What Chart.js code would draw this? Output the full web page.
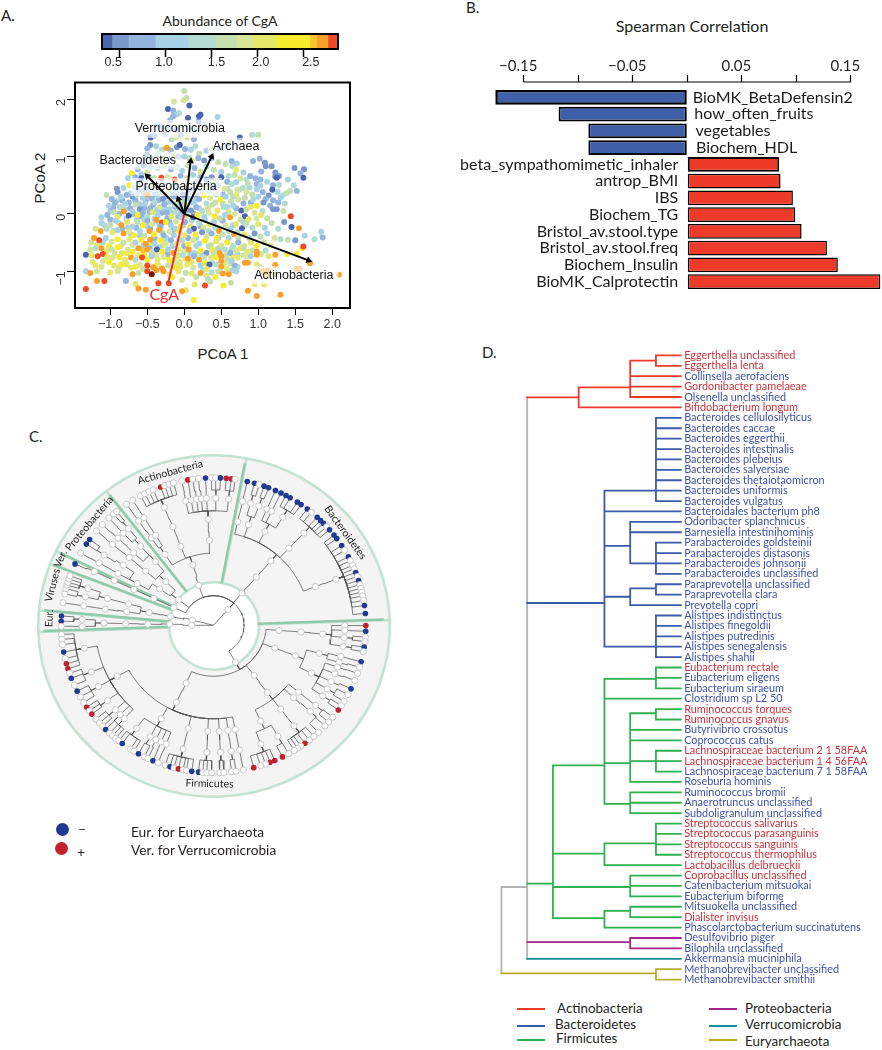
<!DOCTYPE html>
<html lang="en">
<head>
<meta charset="UTF-8">
<title>CgA figure</title>
<script src="https://cdn.jsdelivr.net/npm/chart.js"></script>
<style>
    html, body { margin: 0; padding: 0; background: #fff; overflow: hidden; }
    #page { position: relative; width: 882px; height: 1050px; font-family: Lato, "Open Sans", sans-serif; color: #231f20; }
    canvas { position: absolute; }
    .txt { position: absolute; white-space: nowrap; line-height: 1; transform: translateY(-50%); }
    .mid { transform: translate(-50%, -50%); }
    .rot { transform: translate(-50%, -50%) rotate(-90deg); }
    .key { position: absolute; height: 2px; width: 28px; }
    .dot { position: absolute; width: 13px; height: 13px; border-radius: 50%; }
</style>
</head>
<body>
<div id="page">
    <div class="txt" style="left:1px;top:15px;font-size:15px">A.</div>
    <div class="txt" style="left:466px;top:7px;font-size:15px">B.</div>
    <div class="txt" style="left:29px;top:436px;font-size:15px">C.</div>
    <div class="txt" style="left:482px;top:352px;font-size:15px">D.</div>
    <div class="txt mid" style="left:220px;top:21px;font-size:14px">Abundance of CgA</div>
    <div class="txt mid" style="left:692px;top:26px;font-size:16px">Spearman Correlation</div>
    <div class="txt mid" style="left:223px;top:353px;font-size:15px;font-family:'Liberation Sans'">PCoA 1</div>
    <div class="txt rot" style="left:39px;top:178px;font-size:15px;font-family:'Liberation Sans'">PCoA 2</div>

    <canvas id="cbar" width="260" height="50" style="left:90px;top:25px"></canvas>
    <canvas id="pcoa" width="340" height="265" style="left:20px;top:70px"></canvas>
    <canvas id="bars" width="442" height="255" style="left:440px;top:40px"></canvas>
    <canvas id="ring" width="350" height="350" style="left:38.5px;top:450.5px;transform:scaleX(1.03)"></canvas>
    <canvas id="tree" width="370" height="365" style="left:30px;top:445px"></canvas>
    <canvas id="dendro" width="387" height="645" style="left:495px;top:344.6px"></canvas>

    <div class="dot" style="left:55.5px;top:823px;background:#1f3a93"></div>
    <div class="dot" style="left:55px;top:841.5px;background:#c1202c"></div>
    <div class="txt" style="left:78px;top:829px;font-size:14px">–</div>
    <div class="txt" style="left:77px;top:852px;font-size:14px">+</div>
    <div class="txt" style="left:131px;top:832px;font-size:13.7px">Eur. for Euryarchaeota</div>
    <div class="txt" style="left:131px;top:849.5px;font-size:13.7px">Ver. for Verrucomicrobia</div>

    <div class="key" style="left:517px;top:1008px;background:#f0392b"></div>
    <div class="key" style="left:517px;top:1025px;background:#3b5aa8"></div>
    <div class="key" style="left:517px;top:1039px;background:#2fb14f"></div>
    <div class="key" style="left:709px;top:1008px;background:#a5228f"></div>
    <div class="key" style="left:709px;top:1025px;background:#1a8a9a"></div>
    <div class="key" style="left:709px;top:1039px;background:#b5ae2e"></div>
    <div class="txt" style="left:557px;top:1009px;font-size:13.4px">Actinobacteria</div>
    <div class="txt" style="left:555px;top:1025px;font-size:13.4px">Bacteroidetes</div>
    <div class="txt" style="left:556px;top:1039px;font-size:13.4px">Firmicutes</div>
    <div class="txt" style="left:745px;top:1009px;font-size:13.4px">Proteobacteria</div>
    <div class="txt" style="left:745px;top:1025px;font-size:13.4px">Verrucomicrobia</div>
    <div class="txt" style="left:745px;top:1042px;font-size:13.4px">Euryarchaeota</div>
</div>

<script>
    // ---- panel A: colour bar
    const cbBreaks = [0.313, 0.42, 0.60, 0.89, 1.25, 1.54, 1.77, 1.95, 2.2, 2.565, 2.64, 2.76, 2.87];
    const cbColors = ['#4a64ae', '#7b98ca', '#93b4dc', '#a8d2e6', '#b2dcd2', '#c5dfae', '#d7e59b', '#e6e86a', '#f8ec2f', '#f9c52e', '#f9a02b', '#ef4b27'];
    const cbTicks = [0.5, 1.0, 1.5, 2.0, 2.5];
    const cbTickLabels = ['0.5', '1.0', '1.5', '2.0', '2.5'];
    const cbLabelNudge = [-6, -1.5, 5, 3, 7];

    // ---- panel A: ordination, each point is [PCoA 1, PCoA 2, abundance of CgA]
    const pcoaPoints = [
        [.52,.34,.75],[.58,.12,1.1],[.66,.3,1.4],[.74,.42,1.1],[.82,.28,1.65],[.88,.46,1.1],[.9,.2,.75],[.96,.62,.75],[1.0,.3,1.1],[1.04,.74,.75],[1.12,.56,1.1],[1.16,.14,.75],[1.2,.5,.75],[1.26,.38,1.1],[1.36,.18,1.4],[1.4,.6,1.1],[.6,.66,1.4],[.68,.68,1.65],[.8,.72,1.1],[.84,.6,1.4],
        [.04,.44,.75],[.16,.56,1.1],[.24,.38,1.4],[.34,.52,.75],[.46,.5,1.1],[.52,.18,1.65],[.58,.44,1.4],[.3,.18,1.4],[.42,.2,1.65],[.14,.22,1.1],
        [-1.26,-.5,1.85],[-1.18,-.54,2.1],[-1.1,-.5,1.4],[-1.02,-.56,2.4],[-.94,-.68,1.85],[-.86,-.56,2.1],[-.78,-.68,2.4],[-.7,-.54,1.85],[-.62,-.72,2.1],[-.54,-.72,2.4],[-.46,-.54,2.1],[-.38,-.72,1.85],[-.3,-.56,2.1],[-.22,-.76,2.4],[-.14,-.8,2.1],[-.06,-.84,1.85],[.02,-.78,2.4],[.1,-.84,2.1],[.18,-.7,1.85],[.28,-.86,2.4],[.36,-.76,1.85],[.44,-.62,2.4],[.54,-.86,2.1],[.66,-.74,2.1],[.76,-.6,2.4],[.84,-.74,1.85],[.92,-.64,1.65],[1.04,-.7,1.85],[1.14,-.74,2.1],[-1.24,-.84,2.1],[-1.1,-.82,1.85],[-.88,-.94,1.85],[-.78,-.88,2.1],[-.66,-.92,2.4],[-.56,-.96,1.85],[-.36,-.88,2.1],[-.16,-1.1,2.4],[-.1,-.88,1.85],[.1,-1.04,2.1],[.16,-1.1,1.65],[.42,-1.1,2.4],
        [-1.0,.05,1.1],[-.96,.1,.75],[-.92,.22,1.1],[-.88,.0,.75],[-.84,.24,.75],[-.8,.08,1.25],[-.78,-.08,1.1],[-.75,.2,.75],[-.72,.36,1.1],[-.69,.0,.75],[-.66,.24,.75],[-.64,-.1,1.1],[-.62,.42,.75],[-.6,.17,1.1],[-.58,-.04,.75],[-.55,.38,1.1],[-.54,.1,.75],[-.52,.24,.75],[-.5,-.22,1.1],[-.48,.3,1.1],[-.47,.03,.75],[-.45,.42,1.1],[-.42,.16,.75],[-.4,-.08,1.1],[-.39,.34,.75],[-.37,.07,1.1],[-.35,.24,.75],[-.33,-.2,1.1],[-.31,.38,1.1],[-.3,.02,.75],[-.27,.1,1.1],[-.25,.3,.75],[-.23,-.08,.75],[-.21,.2,1.1],[-.18,.35,.75],[-.17,.02,1.1],[-.15,-.28,.75],[-.12,.12,.75],[-.1,.38,1.1],[-.08,-.05,.75],[-.05,.18,1.1],[-.03,.02,.75],[0,.24,1.1],[.03,.07,.75],[.06,.38,.75],[.09,.2,1.1],[.13,.0,.75],[.16,.32,.75],[.2,.1,1.1],
        [-1.12,-.06,1.1],[-1.08,-.2,1.4],[-1.0,-.1,.75],[-.96,-.3,1.1],[-.88,-.16,1.4],[-.84,-.26,.75],[-.76,-.24,1.1],[-.72,-.36,1.4],[-.65,-.24,.75],[-.6,-.38,1.1],[-.54,-.1,1.4],[-.46,-.26,.75],[-.42,-.42,1.4],[-.36,-.14,1.1],[-.3,-.32,1.4],[-.24,-.42,1.1],[-.2,-.14,.75],[-.12,-.26,1.1],[-.07,-.44,1.4],[-.02,-.2,1.1],[.05,-.42,.75],[.1,-.12,1.4],[.16,-.42,1.1],[.22,-.22,.75],[.28,-.1,1.1],[.33,-.3,1.4],[.4,-.14,1.1],[.46,-.42,1.1],[.52,-.12,.75],[.6,-.3,1.4],[.66,-.2,1.1],[.72,-.32,1.4],[.8,-.14,1.1],
        [-.55,-.55,1.1],[-.47,-.6,.75],[-.4,-.42,.75],[-.34,-.58,1.1],[-.27,-.48,1.4],[-.23,-.7,.75],[-.16,-.56,1.1],[-.08,-.72,1.4],[0,-.56,.75],[.08,-.7,1.1],[.16,-.56,1.4],[.25,-.72,1.1],[.33,-.56,1.4],[.4,-.68,1.65],[.47,-.6,1.1],[.56,-.72,1.65],[.64,-.62,1.4],[.72,-.7,1.1],[.38,-.86,1.4],[.62,-.86,1.65],[.72,-.92,1.4],[.25,-.98,1.4],
        [0,2.14,1.65],[.03,2.02,1.65],[-.14,1.96,1.85],[-.01,1.98,1.85],[.07,1.89,.37],[-.22,1.83,.37],[-.15,1.8,.75],[-.07,1.76,1.4],[-.11,1.73,1.1],[.22,1.73,.37],[.2,1.7,.37],[.05,1.67,.37],[.45,1.69,1.1],[-.15,1.7,.75],[-.19,1.63,.75],[.19,1.61,.5],[.28,1.56,1.4],
        [-.36,1.55,1.1],[-.3,1.52,.75],[-.2,1.5,1.1],[-.1,1.47,.75],[.06,1.5,1.1],[.16,1.48,1.4],[.3,1.5,1.65],[-.455,1.33,.37],[-.4,1.36,.75],[-.26,1.39,1.1],[-.17,1.3,1.4],[-.11,1.33,1.85],[-.05,1.37,.75],[.04,1.33,1.85],[.13,1.3,.75],[.75,1.33,.37],[.92,1.38,1.4],[1,1.38,1.65],[.62,1.26,1.65],[.58,1.2,.75],[-.46,1.2,.5],[-.5,1.14,.75],[-.38,1.18,1.1],[-.3,1.12,1.4],[-.22,1.15,1.85],[-.18,1.1,.75],[-.24,1.15,2.7],[-.1,1.16,.5],[-.06,1.2,.37],[.01,1.13,.75],[.09,1.12,1.1],[.15,1.18,1.4],[.2,1.05,1.65],[.3,1.1,1.1],[.38,1.13,1.65],[.47,1.14,.75],
        [-.5,1.03,.5],[-.53,.95,.75],[-.45,.98,1.1],[-.35,1.04,1.4],[-.27,.98,1.65],[-.2,.96,.75],[-.14,1.02,1.85],[-.08,1,.75],[0,1,1.1],[.07,.98,1.4],[.1,.93,2.1],[.19,.97,.75],[.27,.93,.5],[.37,.97,1.1],[.46,.9,1.65],[.56,.87,1.65],[.65,.83,1.4],[.71,.88,1.1],[.64,.92,.75],[.7,.77,2.1],[.93,.92,.75],[1.02,.96,.75],[1.09,.89,.5],[1.1,.83,.5],[1.18,.83,.5],[1.49,.8,.5],[1.62,.78,.5],[1.57,.71,.75],[-.55,.85,.5],[-.46,.82,1.1],[-.36,.8,1.4],[-.27,.84,1.65],[-.18,.78,.75],[-.1,.82,1.4],[-.03,.75,1.1],[.05,.85,1.65],[.14,.8,.75],[.22,.74,1.85],[.3,.82,1.4],[.4,.77,1.65],[.5,.73,1.1],[-.63,.78,.75],[-.5,.72,1.85],[-.58,.69,1.1],
        [-.71,.71,2.4],[-.76,.62,1.1],[-.66,.64,.75],[-.58,.62,.37],[-.48,.65,1.4],[-.41,.62,1.65],[-.31,.63,2.8],[-.22,.64,1.85],[-.13,.6,2.8],[-.05,.66,.75],[.03,.62,1.65],[.12,.68,1.1],[.22,.64,.75],[.3,.6,.5],[.37,.64,.5],[.5,.64,.37],[.43,.58,1.65],[.58,.56,.75],[.64,.52,1.4],[.7,.55,1.1],[.89,.66,.75],[.76,.62,1.85],[1.23,.72,.5],[1.28,.66,.5],[1.23,.65,.5],[1.25,.63,.37],[1.03,.6,.75],[.86,.52,1.65],[.98,.52,.75],[1.03,.49,1.1],[1.28,.51,1.4],[1.48,.5,1.4],[1.61,.63,.37],[.79,.45,1.4],[.72,.42,1.85],
        [-.91,.44,.5],[-.9,.38,.5],[-.82,.45,1.1],[-.74,.5,2.4],[-1.05,.33,1.65],[-.67,.46,1.1],[-.6,.52,1.4],[-.52,.44,.75],[-.43,.5,1.85],[-.36,.46,.75],[-.28,.52,1.1],[-.2,.42,1.65],[-.14,.48,.75],[-.06,.44,1.4],[.02,.5,1.85],[.09,.42,.75],[.17,.46,1.4],[.26,.5,1.65],[.34,.4,1.1],[.4,.46,.75],[.55,.44,1.85],[.62,.38,1.65],[.7,.33,2.1],[.84,.38,1.85],[.92,.34,1.65],[.98,.43,1.1],[1.06,.38,.75],[1.19,.42,.37],[1.52,.4,.75],[1.43,.4,1.65],[1.38,.36,1.65],[1.33,.32,1.4],[1.14,.32,.5],[1.3,.28,1.1],[1.1,.26,.75],
        [-.98,.26,.75],[-.86,.3,1.1],[-.78,.33,.75],[-.7,.3,.5],[-.64,.34,1.4],[-.56,.28,1.1],[-.5,.34,2.7],[-.44,.27,.75],[-.36,.32,1.1],[-.29,.26,.5],[-.22,.36,1.65],[-.14,.3,.75],[-.07,.24,2.1],[-.02,.33,.5],[.05,.28,1.1],[.12,.35,1.65],[.2,.26,.75],[.27,.32,2.4],[.35,.28,1.85],[.43,.34,1.4],[.49,.25,2.4],[.56,.3,1.1],[.63,.22,1.65],[.73,.25,1.85],[.8,.18,.75],[.93,.25,1.4],[.98,.14,2.4],[1.07,.2,.5],[1.2,.24,.75],[1.27,.2,.75],[1.2,.08,.5],[1.25,.08,.5],[1.34,.05,1.65],[.77,.06,.37],[.7,.1,.75],
        [-1.02,.14,1.1],[-.94,.19,.75],[-.87,.12,1.4],[-.8,.18,1.1],[-.73,.1,.75],[-.66,.16,1.65],[-.6,.08,.5],[-.53,.18,1.1],[-.46,.1,.75],[-.4,.2,1.4],[-.33,.12,1.85],[-.27,.17,.75],[-.2,.08,1.1],[-.13,.16,1.4],[-.06,.08,.75],[.02,.14,1.85],[.09,.06,.5],[.16,.12,.75],[.24,.05,1.4],[.32,.1,1.85],[.38,.16,1.65],[.45,.06,2.1],[.53,.12,1.4],[.6,.04,1.85],[.66,.14,1.1],[.84,.08,1.65],[.9,.12,2.1],[.95,.02,1.85],[1.06,.05,1.4],
        [-1.12,-.16,1.1],[-1.04,-.02,.75],[-.95,.03,1.65],[-.9,-.05,2.1],[-.82,.04,2.7],[-.75,-.03,.37],[-.7,.04,1.1],[-.63,-.02,2.4],[-.56,.02,.75],[-.5,-.05,1.4],[-.43,.03,2.1],[-.36,-.03,1.1],[-.3,-.15,2.8],[-.24,.02,.75],[-.17,-.04,2.1],[-.1,.03,1.4],[-.04,-.06,1.1],[.04,-.03,1.65],[.12,-.06,.37],[.18,-.02,2.4],[.27,-.05,1.1],[.33,.02,1.85],[.41,-.04,2.4],[.48,-.08,1.65],[.55,-.02,1.1],[.62,-.06,2.7],[.68,.0,1.85],[.82,-.04,.37],[.87,-.09,2.1],[.76,-.1,1.65],[.98,-.08,1.85],[1.04,-.02,2.1],[1.12,-.08,1.65],[1.44,-.04,2.8],[1.35,-.14,.5],
        [-1.0,-.2,1.65],[-.93,-.12,1.1],[-.85,-.2,2.7],[-.77,-.14,2.1],[-.7,-.22,1.1],[-.63,-.14,1.65],[-.56,-.2,2.4],[-.5,-.12,.75],[-.43,-.18,1.85],[-.38,-.1,2.7],[-.32,-.22,.75],[-.25,-.14,2.4],[-.18,-.2,1.1],[-.11,-.13,1.85],[-.05,-.22,2.4],[.01,-.14,.75],[.08,-.22,2.1],[.13,-.26,.37],[.2,-.16,1.4],[.26,-.24,1.85],[.34,-.18,2.1],[.42,-.24,1.4],[.47,-.3,2.7],[.56,-.2,1.85],[.63,-.26,1.1],[.7,-.18,2.1],[.78,-.25,.37],[.84,-.17,1.65],[.92,-.24,1.4],[1.0,-.18,2.1],[1.09,-.24,1.1],[1.18,-.16,1.65],[1.27,-.26,1.4],[1.45,-.23,.37],[1.55,-.25,2.7],
        [-1.2,-.26,1.85],[-1.13,-.3,2.7],[-1.05,-.26,1.4],[-.97,-.32,2.1],[-.9,-.28,1.1],[-.82,-.34,2.7],[-.75,-.3,1.85],[-.68,-.37,2.4],[-.6,-.3,1.1],[-.54,-.38,1.65],[-.47,-.3,2.7],[-.41,-.36,2.4],[-.34,-.28,2.7],[-.28,-.37,.75],[-.2,-.31,1.85],[-.14,-.37,1.1],[-.07,-.3,2.4],[0,-.37,2.1],[.07,-.3,.75],[.15,-.36,2.4],[.24,-.32,.5],[.3,-.4,1.85],[.37,-.34,.75],[.44,-.42,2.4],[.52,-.36,1.65],[.6,-.42,1.1],[.67,-.35,2.7],[.73,-.42,1.65],[.81,-.36,2.1],[.88,-.42,1.4],[.95,-.34,.5],[1.03,-.4,1.65],[1.12,-.34,1.1],[1.22,-.42,1.85],[1.63,-.38,1.1],[1.85,-.31,1.1],[1.87,-.41,.75],[1.76,-.44,1.4],[1.5,-.46,.5],[1.4,-.45,1.65],[1.3,-.44,1.4],
        [-1.22,-.42,2.7],[-1.15,-.46,2.8],[-1.06,-.42,1.1],[-.98,-.48,1.85],[-.9,-.44,2.4],[-.82,-.5,1.65],[-.74,-.44,2.1],[-.66,-.5,1.1],[-.58,-.45,2.4],[-.52,-.52,2.7],[-.46,-.45,2.7],[-.4,-.52,1.1],[-.32,-.46,2.4],[-.25,-.52,1.85],[-.18,-.46,.75],[-.1,-.52,2.1],[-.03,-.47,1.4],[.05,-.53,2.4],[.12,-.46,1.85],[.2,-.52,1.1],[.28,-.47,2.4],[.36,-.54,1.65],[.43,-.48,2.1],[.5,-.55,1.85],[.58,-.5,2.4],[.66,-.56,1.4],[.73,-.5,.75],[.81,-.56,1.85],[.9,-.5,2.1],[.98,-.56,2.4],[1.08,-.5,1.65],[1.17,-.55,1.85],[1.59,-.6,2.4],[1.61,-.57,2.8],
        [-1.27,-.62,1.85],[-1.2,-.6,1.4],[-1.12,-.6,2.7],[-1.05,-.65,2.1],[-.98,-.62,1.65],[-.9,-.58,2.4],[-.84,-.68,2.1],[-.76,-.62,1.85],[-.7,-.66,2.4],[-.62,-.6,2.7],[-.56,-.64,2.6],[-.5,-.62,2.7],[-.44,-.67,1.65],[-.37,-.62,.37],[-.3,-.66,2.4],[-.22,-.62,1.1],[-.15,-.68,2.7],[-.08,-.62,2.1],[0,-.66,1.85],[.06,-.62,2.7],[.14,-.68,1.1],[.22,-.64,2.4],[.3,-.68,.5],[.37,-.62,2.1],[.48,-.68,2.7],[.55,-.62,1.4],[.62,-.68,.75],[.7,-.64,1.85],[.8,-.6,1.65],[.85,-.66,2.1],[.98,-.66,2.7],[1.1,-.64,1.4],
        [-1.33,-.71,.37],[-1.25,-.72,2.1],[-1.17,-.74,2.8],[-1.1,-.7,2.8],[-1.04,-.75,2.1],[-.97,-.76,1.85],[-.88,-.75,2.4],[-.8,-.8,2.1],[-.72,-.76,2.7],[-.66,-.8,1.4],[-.57,-.76,2.8],[-.5,-.8,2.4],[-.44,-.74,1.1],[-.36,-.8,2.1],[-.28,-.75,1.85],[-.2,-.82,2.4],[-.1,-.74,2.1],[-.02,-.72,1.4],[.05,-.78,2.7],[.13,-.74,.75],[.2,-.8,2.7],[.27,-.76,1.65],[.34,-.88,.37],[.42,-.76,2.4],[.5,-.74,2.7],[.5,-.82,2.7],[.58,-.78,1.65],[.64,-.82,1.1],[.72,-.76,2.1],[.8,-.72,1.85],[.98,-.71,2.7],[1.23,-.71,2.7],[1.39,-.7,2.4],[1.52,-.7,2.4],[.9,-.74,1.1],
        [-1.2,-.9,2.1],[-1.12,-.92,1.85],[-1.02,-.84,2.4],[-.95,-.9,2.1],[-.85,-.88,2.4],[-.72,-.94,2.1],[-.6,-.88,1.85],[-.5,-.9,2.8],[-.42,-.93,2.7],[-.3,-.95,2.7],[-.22,-.9,1.65],[-.12,-.94,2.4],[-.05,-.92,2.1],[.04,-.88,2.1],[.12,-.94,1.85],[.22,-.9,1.1],[.3,-.96,2.1],[.43,-.88,1.4],[.5,-.92,2.7],[.46,-1,1.65],[.58,-.96,2.1],[.68,-.9,.75],[.82,-.85,2.7],[.86,-.85,2.7],[.65,-.98,1.1],[.98,-.88,2.1],[1.7,-.86,2.7],[1.23,-.89,2.7],[1.02,-.92,1.85],
        [-1.33,-1.0,1.1],[-1.27,-1.03,2.7],[-1.18,-1.0,1.85],[-1.0,-1.02,2.1],[-.9,-1.0,1.85],[-.7,-1.05,2.7],[-.62,-1.03,1.65],[-.5,-1.0,2.8],[-.44,-1.05,2.9],[-.38,-.98,2.7],[-.28,-1.0,2.7],[-.2,-1.05,2.1],[-.08,-1.0,2.1],[.02,-1.03,1.65],[.22,-1.03,2.7],[.3,-1.08,2.1],[.37,-1.02,1.4],[.52,-1.04,2.7],[.6,-1.05,2.7],[.7,-1,1.1],[1.06,-1.0,2.7],[1.13,-.98,2.7],[1.13,-1.05,2.7],[1.51,-.96,2.7],[1.56,-.96,2.7],[2.09,-1.06,2.7],[1.2,-1.03,1.85],
        [-1.33,-1.31,2.8],[-1.18,-1.17,2.7],[-1.08,-1.17,2.8],[-.79,-1.17,.75],[-.66,-1.22,2.1],[-.62,-1.3,2.7],[-.52,-1.32,2.7],[-.35,-1.21,2.8],[-.21,-1.21,2.8],[-.03,-1.15,1.85],[.02,-1.33,2.1],[.14,-1.23,2.1],[.28,-1.25,2.8],[.32,-1.14,1.4],[.35,-1.18,1.65],[.53,-1.25,2.4],[.63,-1.2,1.65],[.13,-1.5,2.4],[-.03,-1.35,2.7],[.86,-1.34,2.7],[.98,-1.43,2.7],[1.3,-1.41,2.7],[.95,-1.22,2.1],[1.08,-1.23,2.1]
    ];
    const pcoaXTicks = [-1.0, -0.5, 0, 0.5, 1.0, 1.5, 2.0];
    const pcoaYTicks = [-1, 0, 1, 2];
    const arrowNames = ['Actinobacteria', 'Archaea', 'Verrucomicrobia', 'Bacteroidetes', 'Proteobacteria'];
    const arrowTipX = [1.68, 0.37, 0.086, -0.5, -0.08];
    const arrowTipY = [-0.81, 1.0, 0.92, 0.66, 0.26];
    const arrowLabelX = [1.48, 0.7, -0.06, -0.63, -0.11];
    const arrowLabelY = [-1.07, 1.17, 1.48, 0.93, 0.47];
    const cgaTip = [-0.216, -1.19];
    const cgaLabel = [-0.27, -1.41];

    // ---- panel B
    const barNames = ['BioMK_BetaDefensin2', 'how_often_fruits', 'vegetables', 'Biochem_HDL', 'beta_sympathomimetic_inhaler', 'antrop_BMI', 'IBS', 'Biochem_TG', 'Bristol_av.stool.type', 'Bristol_av.stool.freq', 'Biochem_Insulin', 'BioMK_Calprotectin'];
    const barValues = [-0.176, -0.118, -0.0907, -0.0907, 0.0843, 0.0855, 0.0968, 0.099, 0.1048, 0.128, 0.138, 0.177];
    const barTicks = [-0.15, -0.10, -0.05, 0, 0.05, 0.10, 0.15];
    const barTickLabels = ['−0.15', '', '−0.05', '', '0.05', '', '0.15'];
    const barLabelNudge = [5.5, 7, 8.3, 8.7];

    // ---- panel C: [angle, child, ...] by taxonomic depth, a leaf is an angle or [angle, 'b' | 'r']
    const sectorNames = ['Bacteroidetes', 'Firmicutes', 'Eur.', 'Viruses', 'Ver.', 'Proteobacteria', 'Actinobacteria'];
    const sectorWidths = [77.4, 180, 7.2, 16.1, 4.7, 26.3, 48.3];
    const sectorDividers = [79.4, 2, 182, 174.8, 158.7, 154, 127.7];
    const sectorLabelAngles = [36, -91.4, 177.5, 165.6, 155.8, 139.7, 105.3];
    const sectorLabelRadii = [0.953, 0.955, 0.96, 0.971, 0.98, 0.951, 0.958];
    const levelRadii = [0, 0.127, 0.256, 0.384, 0.513, 0.64, 0.767, 0.89];

    const bacteroidetesTree = [49.6, [49.3, [49.2,
        [77.3, [77.2, [77.2, 'b']]],
        [71.4, [73.6, [74.4, 'b'], 72.5], [69.8, [70.6, 'b'], [68.8, 'b']]],
        [62, [66, [66, 'b']], [63.7, [63.7, 'b']], [58.2, [61.6, 'b'], [59.8, 'b'], [56.6, 'b'], [54.9, 'b']]],
        [46.5, [46.5, [52, 'b'], 50, [47.1, 'b'], [45.3, 'b'], [43.8, 'b'], 42, [40.4, 'b']]],
        [21.4, [21.2, [37.7, 'b'], [36, 'b'], [32.7, 'b'], 30.5, [27.7, 'b'], 26, 24, 22.5, [21, 'b'], 19.3, [17.7, 'b'], 16, 14.5, 13, 11.5, 9.7, [7.7, 'b'], [4.6, 'b']]]
    ]]];
    const firmicutesTree = [-60,
        [-4.6, [-4.5, [-4.7,
            [-0.1, [-0.1, 'r']], [-2.3, [-2.3, 'b']], [-5.5, -4.6, -6.3], [-9.5, [-8.5, 'b'], -10.3]
        ]]],
        [-21, [-21,
            [-15.3, [-14.2, [-14.3, 'b']], [-17, -16.5]],
            [-26.8, [-19.2, -19], [-22.4, -22], [-26.3, [-25.5, 'b']], [-30, -28, -31], [-33.7, -33, [-35, 'r']]]
        ]],
        [-51.8, [-52.2,
            [-39, [-39, -38.5, -41]],
            [-43, [-42.6, -43, -46.5]],
            [-52.2, [-52.2, -48.8, -51, [-53.1, 'r'], -55, -56.5, -58]],
            [-64.5, [-60.7, -60.5, [-63.1, 'r']], [-68.9, [-66.3, 'r'], [-68.2, 'r'], -70, -72, [-74.7, 'r']]]
        ]],
        [-114.6, [-115,
            [-151.3,
                [-169.6, -176.4, -174.5, -172.5, [-169.6, 'b'], -167, [-164.9, 'r'], [-162.9, 'r']],
                [-158.5, -161, [-159, 'b'], -156],
                [-151.2, [-153.5, 'b'], -151, -148.5],
                [-143.8, [-146.3, 'r'], -144.5, [-143, 'r']],
                [-138.4, -140.5, -138.5, -136.7],
                [-135.3, [-135.1, 'b'], -133],
                [-132.8, -131.5, -130]
            ],
            [-118.5,
                [-125.9, -128.5, [-126.8, 'b'], -123, -121.5],
                [-118.8, [-119.5, 'b'], -117],
                [-116, -115.5],
                [-113.5, [-113.4, 'b']],
                [-111.1, -111.3]
            ],
            [-103.4, [-103.4, -108.5, [-106.6, 'b'], -105, [-103.3, 'r'], -101.5, -100.3, [-98.2, 'b']]],
            [-93, [-92.9, [-95.6, 'b'], -94, -92.5, -90.7]],
            [-87, [-87, -87.7, -86.1]],
            [-82.4, [-82.2, -83.2, -81.5]],
            [-78.6, [-78.6, -78.7]]
        ]]
    ];
    const actinobacteriaTree = [109.7, [108.3,
        [123.5, [124.5, [124.8, 124.8]], [121.9, [122, 122]]],
        [111.9, [111.8, [112, 118.6, 116.8, 115, 113.3, [110.3, 'r'], 108.7, 107, 105.2]]],
        [92.7, [92.7,
            [102.2, 102], [99.8, [99.7, 'r']], [97.4, 97.8], [95.3, 95.7], [93, [93, 'b']],
            [89, 90.7, 89.2, [87.4, 'b']], [83.4, [85.2, 'r'], [83.3, 'r'], 81.8]
        ]]
    ]];
    const proteobacteriaTree = [143,
        [136.6,
            [131.4, [131.7, [133.5, 133.4], [130.4, 131, 129.5]], [136.8, [136.7, 136.9]]],
            [140.5, [140.3, [140.4, 140.2]]]
        ],
        [145, [150.5, [150.7, [150.6, 150.7]], [145.5, [146.4, [146.6, 'b'], [144.4, 'b']]]]]
    ];
    const verrucomicrobiaTree = [155, [155, [155, [155, [155, [155.4, 'b']]]]]];
    const virusesTree = [165.6, [168, [168.4,
        [170.8, [171.2, [171.2, 171.2]]],
        [165.4, [165.4, [167.1, 167.7, 165.6], [163.1, 164.2, 163, 161.7, 160.4]]]
    ]]];
    const euryarchaeotaTree = [180, [178.4, [179, [178.8, [178.8,
        [177.3, [176.4, 'b'], [178.4, 'b']], [180.5, 180.4]
    ]]]]];
    const bacteriaTree = [48.5, bacteroidetesTree, firmicutesTree, actinobacteriaTree, proteobacteriaTree, verrucomicrobiaTree];
    const treeRoot = [0, bacteriaTree, virusesTree, euryarchaeotaTree];

    // ---- panel D: [level, row, child, ...], a leaf is its row number
    const speciesNames = ['Eggerthella unclassified', 'Eggerthella lenta', 'Collinsella aerofaciens', 'Gordonibacter pamelaeae', 'Olsenella unclassified', 'Bifidobacterium longum',
        'Bacteroides cellulosilyticus', 'Bacteroides caccae', 'Bacteroides eggerthii', 'Bacteroides intestinalis', 'Bacteroides plebeius', 'Bacteroides salyersiae', 'Bacteroides thetaiotaomicron', 'Bacteroides uniformis', 'Bacteroides vulgatus', 'Bacteroidales bacterium ph8',
        'Odoribacter splanchnicus', 'Barnesiella intestinihominis', 'Parabacteroides goldsteinii', 'Parabacteroides distasonis', 'Parabacteroides johnsonii', 'Parabacteroides unclassified', 'Paraprevotella unclassified', 'Paraprevotella clara', 'Prevotella copri',
        'Alistipes indistinctus', 'Alistipes finegoldii', 'Alistipes putredinis', 'Alistipes senegalensis', 'Alistipes shahii',
        'Eubacterium rectale', 'Eubacterium eligens', 'Eubacterium siraeum', 'Clostridium sp L2 50', 'Ruminococcus torques', 'Ruminococcus gnavus', 'Butyrivibrio crossotus', 'Coprococcus catus',
        'Lachnospiraceae bacterium 2 1 58FAA', 'Lachnospiraceae bacterium 1 4 56FAA', 'Lachnospiraceae bacterium 7 1 58FAA', 'Roseburia hominis', 'Ruminococcus bromii', 'Anaerotruncus unclassified', 'Subdoligranulum unclassified',
        'Streptococcus salivarius', 'Streptococcus parasanguinis', 'Streptococcus sanguinis', 'Streptococcus thermophilus', 'Lactobacillus delbrueckii', 'Coprobacillus unclassified', 'Catenibacterium mitsuokai', 'Eubacterium biforme',
        'Mitsuokella unclassified', 'Dialister invisus', 'Phascolarctobacterium succinatutens', 'Desulfovibrio piger', 'Bilophila unclassified', 'Akkermansia muciniphila', 'Methanobrevibacter unclassified', 'Methanobrevibacter smithii'];
    const redSpecies = [0, 1, 3, 5, 30, 34, 35, 38, 39, 45, 46, 47, 48, 49, 50, 54];
    const actinoClade = [3, 4.03, [5, 3.07, [6, 0.5, 0, 1], 2, 3, 4], 5];
    const bacteroClade = [4, 23.8,
        [6, 13, 6, 7, 8, 9, 10, 11, 12, 13, 14], 15,
        [5, 18.3, 16, 17, [6, 20, 18, 19, 20, 21]],
        [5, 23.2, [6, 22.4, 22, 23], 24],
        [6, 28, 25, 26, 27, 28, 29]];
    const firmiClade = [2, 50.77,
        [4, 39.4, [6, 31.1, 30, 31, 32], 33,
            [5, 39.2, [6, 34.4, 34, 35], 36, 37, [6, 39, 38, 39, 40], 41],
            [5, 43.1, 42, 43, 44]],
        [4, 47.9, [6, 46.9, 45, 46, 47, 48], 49],
        [5, 51.1, 50, 51, 52],
        [4, 54.1, [5, 53.4, 53, 54], 55]];
    const proteoClade = [5, 56.4, 56, 57];
    const verruClade = 58;
    const euryClade = [6, 59.4, 59, 60];
    const rootLevels = [0, 0, null, 0, 1, null, 1, 1];
    const rootRows = [51.1, 59.4, null, 51.1, 51.1, null, 4.03, 58];

    // ---- helpers
    const sans = 'Liberation Sans';
    const myriad = 'Lato';
    const frame = { id: 'frame', afterDatasetsDraw(chart) {
        const { ctx, chartArea: a } = chart;
        ctx.save();
        ctx.strokeStyle = '#000';
        ctx.lineWidth = 2;
        ctx.strokeRect(a.left, a.top, a.right - a.left, a.bottom - a.top);
        ctx.restore();
    } };
    const base = { responsive: false, animation: false, events: [], plugins: { legend: { display: false }, tooltip: { enabled: false } } };
    function valueAt(a) {
        let i = cbBreaks.findIndex(b => b > a) - 1;
        if (i < 0) i = cbColors.length - 1;
        return cbColors[i];
    }

    // ---- colour bar
    new Chart(document.getElementById('cbar'), {
        type: 'bar',
        data: {
            labels: ['CgA'],
            datasets: cbColors.map((c, i) => ({ data: [[cbBreaks[i], cbBreaks[i + 1]]], backgroundColor: c, grouped: false, barPercentage: 1, categoryPercentage: 1 }))
        },
        options: { ...base, indexAxis: 'y',
            layout: { padding: { top: 9, left: 12, right: 12, bottom: 0 } },
            scales: {
                y: { display: false },
                x: { min: cbBreaks[0], max: cbBreaks[cbBreaks.length - 1],
                    afterBuildTicks: s => { s.ticks = cbTicks.map(v => ({ value: v })); },
                    afterFit: s => { s.height = 26; },
                    grid: { drawOnChartArea: false, tickLength: 8, tickWidth: 1.5, tickColor: '#000' },
                    border: { display: false },
                    ticks: { display: false } }
            }
        },
        plugins: [frame, { id: 'cbLabels', afterDraw(chart) {
            const { ctx, scales: { x } } = chart;
            ctx.save();
            ctx.font = '12.5px "' + sans + '"';
            ctx.fillStyle = '#231f20';
            ctx.textAlign = 'center';
            ctx.textBaseline = 'middle';
            cbTicks.forEach((v, i) => ctx.fillText(cbTickLabels[i], x.getPixelForValue(v) + cbLabelNudge[i], 38));
            ctx.restore();
        } }]
    });

    // ---- ordination
    function arrowDataset(x, y, color) {
        return { data: [{ x: 0, y: 0 }, { x, y }], showLine: true, borderColor: color, borderWidth: 2, order: 1,
            pointStyle: 'triangle', pointRadius: [0, 4], backgroundColor: color, pointBorderWidth: 0,
            pointRotation: ctx => {
                const s = ctx.chart.scales;
                return Math.atan2(s.x.getPixelForValue(x) - s.x.getPixelForValue(0), s.y.getPixelForValue(0) - s.y.getPixelForValue(y)) * 180 / Math.PI;
            } };
    }
    new Chart(document.getElementById('pcoa'), {
        type: 'scatter',
        data: { datasets: [
            { data: pcoaPoints.map(p => ({ x: p[0], y: p[1] })), order: 3, pointRadius: 3, pointBorderWidth: 0,
              pointBackgroundColor: pcoaPoints.map(p => p[2] > 2.85 ? '#7a1a10' : valueAt(p[2])) },
            ...arrowNames.map((n, i) => arrowDataset(arrowTipX[i], arrowTipY[i], '#000')),
            { data: [{ x: 0, y: 0 }, { x: cgaTip[0], y: cgaTip[1] }], showLine: true, borderColor: '#ee2a30', borderWidth: 2, pointRadius: 0, order: 2 }
        ] },
        options: { ...base,
            layout: { padding: { top: 8, right: 10 } },
            scales: {
                x: { min: -1.477, max: 2.24,
                    afterBuildTicks: s => { s.ticks = pcoaXTicks.map(v => ({ value: v })); },
                    afterFit: s => { s.height = 27; },
                    grid: { drawOnChartArea: false, tickLength: 7, tickColor: '#000', tickWidth: 1 }, border: { display: false },
                    ticks: { font: { family: sans, size: 12.5 }, color: '#333', padding: 2, autoSkip: false, maxRotation: 0,
                        callback: v => v.toFixed(1).replace('-', '−') } },
                y: { min: -1.64, max: 2.29,
                    afterBuildTicks: s => { s.ticks = pcoaYTicks.map(v => ({ value: v })); },
                    afterFit: s => { s.width = 55; },
                    grid: { drawOnChartArea: false, tickLength: 8, tickColor: '#000', tickWidth: 1 }, border: { display: false },
                    ticks: { font: { family: sans, size: 12.5 }, color: '#333', padding: 5, autoSkip: false, minRotation: 90, maxRotation: 90,
                        callback: v => String(v).replace('-', '−') } }
            }
        },
        plugins: [{ id: 'biplotText',
            afterDatasetDraw(chart, args) {
                if (args.index !== 0) return;
                const { ctx, scales: { x, y } } = chart;
                ctx.save();
                ctx.font = '12.5px "' + sans + '"';
                ctx.fillStyle = 'rgba(255,255,255,0.62)';
                arrowNames.forEach((n, i) => {
                    const w = ctx.measureText(n).width + 10;
                    ctx.fillRect(x.getPixelForValue(arrowLabelX[i]) - w / 2, y.getPixelForValue(arrowLabelY[i]) - 9, w, 18);
                });
                ctx.restore();
            },
            afterDatasetsDraw(chart) {
                const { ctx, scales: { x, y } } = chart;
                ctx.save();
                ctx.textAlign = 'center';
                ctx.textBaseline = 'middle';
                ctx.font = '12.5px "' + sans + '"';
                ctx.fillStyle = '#111';
                arrowNames.forEach((n, i) => ctx.fillText(n, x.getPixelForValue(arrowLabelX[i]), y.getPixelForValue(arrowLabelY[i])));
                ctx.font = '16px "' + myriad + '"';
                ctx.fillStyle = '#ee2a30';
                ctx.fillText('CgA', x.getPixelForValue(cgaLabel[0]), y.getPixelForValue(cgaLabel[1]));
                ctx.restore();
            }
        }, frame]
    });

    // ---- spearman bars
    new Chart(document.getElementById('bars'), {
        type: 'bar',
        data: { datasets: [{
            data: barValues.map((v, i) => ({ x: v, y: i })),
            backgroundColor: barValues.map(v => v < 0 ? '#3f5fa9' : '#ee3a29'),
            borderColor: '#000',
            borderWidth: [2.5, 2, 2, 2, 2, 1.5, 1.5, 1.5, 1.5, 1.5, 1.5, 1.5],
            borderSkipped: false,
            barPercentage: 0.88, categoryPercentage: 1
        }] },
        options: { ...base, indexAxis: 'y',
            layout: { padding: { top: 17, left: 30, right: 0, bottom: 5 } },
            scales: {
                y: { type: 'linear', display: false, reverse: true, offset: false, min: -0.92, max: 11.5, ticks: { stepSize: 1 } },
                x: { type: 'linear', position: 'top', min: -0.1992, max: 0.1785,
                    afterBuildTicks: s => { s.ticks = barTicks.map(v => ({ value: v })); },
                    afterFit: s => { s.height = 25; s.paddingLeft = 0; s.paddingRight = 0; },
                    grid: { drawOnChartArea: false, tickLength: 7, tickColor: '#000', tickWidth: 1.2 }, border: { display: false },
                    ticks: { font: { family: myriad, size: 15 }, color: '#231f20', padding: 0, autoSkip: false, maxRotation: 0, labelOffset: -5.5,
                        callback: (v, i) => barTickLabels[i] } }
            }
        },
        plugins: [{ id: 'barText', afterDatasetsDraw(chart) {
            const { ctx, scales: { x, y } } = chart;
            ctx.save();
            ctx.strokeStyle = '#000';
            ctx.lineWidth = 1.2;
            ctx.beginPath();
            ctx.moveTo(x.getPixelForValue(barTicks[0]), y.top);
            ctx.lineTo(x.getPixelForValue(barTicks[barTicks.length - 1]), y.top);
            ctx.stroke();
            ctx.font = '16px "' + myriad + '"';
            ctx.fillStyle = '#1c1a1b';
            ctx.textBaseline = 'middle';
            barNames.forEach((n, i) => {
                const neg = barValues[i] < 0;
                ctx.textAlign = neg ? 'left' : 'right';
                ctx.fillText(n, x.getPixelForValue(0) + (neg ? barLabelNudge[i] : -9), y.getPixelForValue(i));
            });
            ctx.restore();
        } }]
    });

    // ---- circular tree: grey sectors, then branches and nodes on top
    new Chart(document.getElementById('ring'), {
        type: 'doughnut',
        data: { labels: sectorNames, datasets: [{ data: sectorWidths, backgroundColor: '#f4f4f4', borderColor: '#c3e2d2', borderWidth: 2.5 }] },
        options: { ...base, rotation: 10.6, cutout: 43.7, layout: { padding: 3 } }
    });

    const polar = (a, r) => ({ x: r * Math.cos(a * Math.PI / 180), y: r * Math.sin(a * Math.PI / 180) });
    const GAP = { x: NaN, y: NaN };
    const branchPts = [], nodePts = [], nodeFill = [], nodeLine = [], nodeSize = [];
    function walkTree(node, depth) {
        const isArr = Array.isArray(node);
        const kind = isArr && typeof node[1] === 'string' ? node[1] : null;
        const a = isArr ? node[0] : node;
        const r = levelRadii[depth];
        if (depth > 0) {
            nodePts.push(polar(a, r));
            nodeFill.push(kind === 'b' ? '#1f3a93' : kind === 'r' ? '#c1202c' : '#fff');
            nodeLine.push(kind ? 'rgba(0,0,0,0)' : '#bdbdbd');
            nodeSize.push(kind ? 2.8 : 3.1);
        }
        if (!isArr || kind) return;
        const childR = levelRadii[depth + 1];
        const elbow = r + 0.4 * (childR - r);
        node.slice(1).forEach(c => {
            const ca = Array.isArray(c) ? c[0] : c;
            if (depth === 0) {
                branchPts.push(polar(a, r));
            } else {
                branchPts.push(polar(a, r), polar(a, elbow));
                const steps = Math.ceil(Math.abs(ca - a) / 4);
                for (let s = 1; s <= steps; s++) branchPts.push(polar(a + (ca - a) * s / steps, elbow));
            }
            branchPts.push(polar(ca, childR), GAP);
            walkTree(c, depth + 1);
        });
    }
    walkTree(treeRoot, 0);
    const dividerPts = [];
    sectorDividers.forEach(a => dividerPts.push(polar(a, 0.256), polar(a, 0.995), GAP));

    new Chart(document.getElementById('tree'), {
        type: 'scatter',
        data: { datasets: [
            { data: nodePts, order: 1, pointRadius: nodeSize, pointBackgroundColor: nodeFill, pointBorderColor: nodeLine, pointBorderWidth: 0.8 },
            { data: branchPts, order: 2, showLine: true, borderColor: '#555', borderWidth: 0.75, pointRadius: 0 },
            { data: dividerPts, order: 3, showLine: true, borderColor: '#8fcaad', borderWidth: 2.5, pointRadius: 0 }
        ] },
        options: { ...base,
            scales: { x: { display: false, min: -1.044, max: 1.0615 }, y: { display: false, min: -1.085, max: 1.0587 } }
        },
        plugins: [{ id: 'sectorText', afterDatasetsDraw(chart) {
            const { ctx, scales: { x, y } } = chart;
            ctx.save();
            ctx.font = '10.5px "' + myriad + '"';
            ctx.fillStyle = '#231f20';
            ctx.textAlign = 'center';
            ctx.textBaseline = 'middle';
            sectorNames.forEach((n, i) => {
                const a = sectorLabelAngles[i], p = polar(a, sectorLabelRadii[i]);
                ctx.save();
                ctx.translate(x.getPixelForValue(p.x), y.getPixelForValue(p.y));
                ctx.rotate((a < 0 ? -90 - a : 90 - a) * Math.PI / 180);
                ctx.fillText(n, 0, 0);
                ctx.restore();
            });
            ctx.restore();
        } }]
    });

    // ---- dendrogram
    function cladePts(node, parentLevel, out) {
        if (!Array.isArray(node)) {
            out.push({ x: parentLevel, y: node }, { x: 7, y: node }, GAP);
            return out;
        }
        const [level, row, ...kids] = node;
        out.push({ x: parentLevel, y: row }, { x: level, y: row }, GAP);
        const rows = kids.map(k => Array.isArray(k) ? k[1] : k);
        out.push({ x: level, y: Math.min(...rows) }, { x: level, y: Math.max(...rows) }, GAP);
        kids.forEach(k => cladePts(k, level, out));
        return out;
    }
    const lineSet = (data, color) => ({ data, showLine: true, borderColor: color, borderWidth: 1.8, borderCapStyle: 'square', pointRadius: 0 });
    new Chart(document.getElementById('dendro'), {
        type: 'scatter',
        data: { datasets: [
            lineSet(cladePts(actinoClade, 1, []), '#f0392b'),
            lineSet(cladePts(bacteroClade, 1, []), '#3b5aa8'),
            lineSet(cladePts(firmiClade, 1, []), '#2fb14f'),
            lineSet(cladePts(proteoClade, 1, []), '#a5228f'),
            lineSet(cladePts(verruClade, 1, []), '#1a8a9a'),
            lineSet(cladePts(euryClade, 0, []), '#b5ae2e'),
            lineSet(rootLevels.map((v, i) => v === null ? GAP : { x: v, y: rootRows[i] }), '#b3b3b3')
        ] },
        options: { ...base,
            scales: {
                x: { display: false, min: -0.25, max: 7 },
                y: { position: 'right', reverse: true, min: -1, max: 61,
                    afterBuildTicks: s => { s.ticks = speciesNames.map((n, i) => ({ value: i })); },
                    afterFit: s => { s.width = 200.3; s.paddingTop = 0; s.paddingBottom = 0; },
                    grid: { display: false, drawTicks: false }, border: { display: false },
                    ticks: { padding: 2.5, autoSkip: false, font: { family: myriad, size: 10.85 },
                        color: c => redSpecies.includes(c.index) ? '#c8323c' : '#3f53a3',
                        callback: v => speciesNames[v] } }
            }
        }
    });
</script>
</body>
</html>
